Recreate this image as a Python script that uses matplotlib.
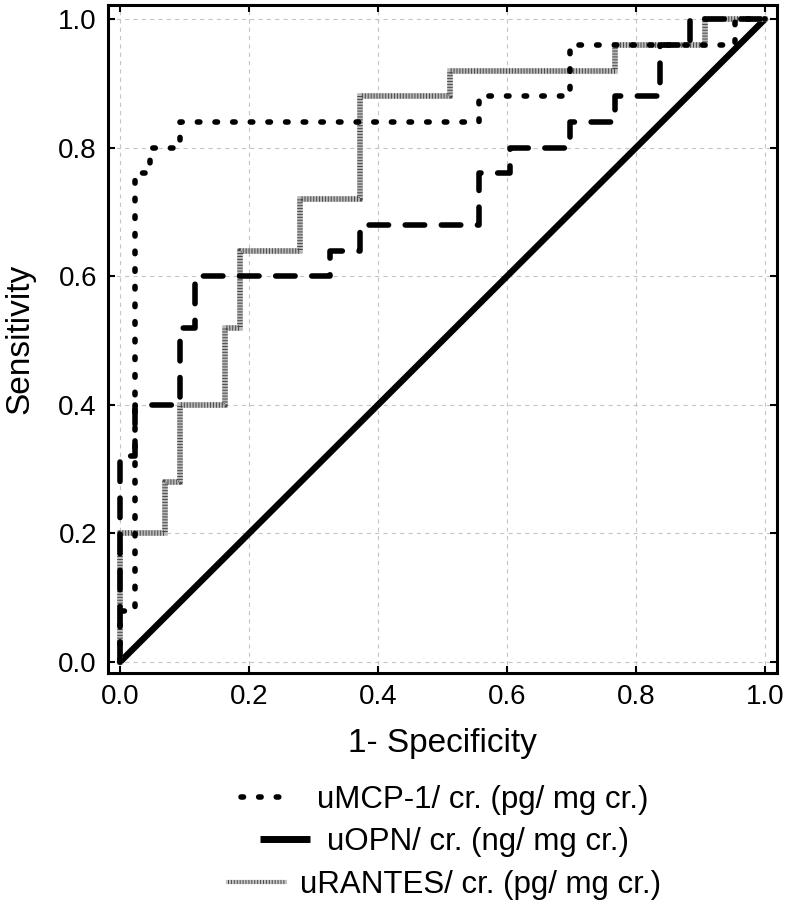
import matplotlib
matplotlib.use("Agg")
import matplotlib.pyplot as plt
from matplotlib.lines import Line2D
from matplotlib.legend_handler import HandlerTuple

plt.rcParams['font.family'] = ['Liberation Sans', 'DejaVu Sans']
plt.rcParams['lines.scale_dashes'] = False

# ROC step curves: (1 - specificity, sensitivity)
mcp_fpr = [0.0, 0.0, 0.023, 0.023, 0.047, 0.047, 0.093, 0.093, 0.556, 0.556, 0.698, 0.698, 0.953, 0.953, 1.0]
mcp_tpr = [0.0, 0.08, 0.08, 0.76, 0.76, 0.80, 0.80, 0.84, 0.84, 0.88, 0.88, 0.96, 0.96, 1.0, 1.0]

opn_fpr = [0.0, 0.0, 0.023, 0.023, 0.093, 0.093, 0.116, 0.116, 0.326, 0.326, 0.372, 0.372, 0.556, 0.556,
           0.605, 0.605, 0.698, 0.698, 0.767, 0.767, 0.837, 0.837, 0.884, 0.884, 1.0]
opn_tpr = [0.0, 0.32, 0.32, 0.40, 0.40, 0.52, 0.52, 0.60, 0.60, 0.64, 0.64, 0.68, 0.68, 0.76,
           0.76, 0.80, 0.80, 0.84, 0.84, 0.88, 0.88, 0.96, 0.96, 1.0, 1.0]

rantes_fpr = [0.0, 0.0, 0.07, 0.07, 0.093, 0.093, 0.163, 0.163, 0.186, 0.186, 0.279, 0.279, 0.372, 0.372,
              0.512, 0.512, 0.767, 0.767, 0.907, 0.907, 1.0]
rantes_tpr = [0.0, 0.20, 0.20, 0.28, 0.28, 0.40, 0.40, 0.52, 0.52, 0.64, 0.64, 0.72, 0.72, 0.88,
              0.88, 0.92, 0.92, 0.96, 0.96, 1.0, 1.0]

ref_x = [0.0, 1.0]
ref_y = [0.0, 1.0]

labels = ["uMCP-1/ cr. (pg/ mg cr.)", "uOPN/ cr. (ng/ mg cr.)", "uRANTES/ cr. (pg/ mg cr.)"]
ticks = [0.0, 0.2, 0.4, 0.6, 0.8, 1.0]
tick_labels = ["0.0", "0.2", "0.4", "0.6", "0.8", "1.0"]

fig = plt.figure(figsize=(7.86, 9.05), dpi=100)
ax = fig.add_axes([0.1374, 0.2564, 0.8511, 0.7381])

lw = 4.0
# diagonal reference
ax.plot(ref_x, ref_y, color='black', lw=4.6, solid_capstyle='round', zorder=3)
# RANTES: gray hatched line
ax.plot(rantes_fpr, rantes_tpr, color='#b8b8b8', lw=lw, solid_joinstyle='miter', zorder=4)
ax.plot(rantes_fpr, rantes_tpr, color='#4a4a4a', lw=lw, dashes=(0.7, 1.4), dash_capstyle='butt', zorder=4)
# OPN: dashed
ax.plot(opn_fpr, opn_tpr, color='black', lw=lw, dashes=(14, 12), dash_capstyle='round',
        dash_joinstyle='round', zorder=5)
# MCP-1: dotted
ax.plot(mcp_fpr, mcp_tpr, color='black', lw=lw, dashes=(1.8, 10.9), dash_capstyle='round', zorder=6)

ax.set_xlim(-0.0186, 1.0186)
ax.set_ylim(-0.017, 1.022)
ax.set_xticks(ticks)
ax.set_xticklabels(tick_labels)
ax.set_yticks(ticks)
ax.set_yticklabels(tick_labels)
ax.tick_params(direction='in', top=True, right=True, length=5, width=1.5, labelsize=20, pad=8)
ax.grid(True, color='#c4c4c4', lw=0.8, dashes=(3, 3))
ax.set_axisbelow(True)
for s in ax.spines.values():
    s.set_linewidth(2.2)

ax.set_xlabel("1- Specificity", fontsize=24)
ax.set_ylabel("Sensitivity", fontsize=24)
ax.xaxis.set_label_coords(0.5, -0.082)
ax.yaxis.set_label_coords(-0.108, 0.5)

# legend: three centered rows
h_mcp = Line2D([], [], color='black', lw=lw, dashes=(1.8, 10.9), dash_capstyle='round')
h_opn = Line2D([], [], color='black', lw=5.0, solid_capstyle='butt')
h_ran_base = Line2D([], [], color='#c4c4c4', lw=3.0)
h_ran_hatch = Line2D([], [], color='#4a4a4a', lw=3.0, dashes=(0.7, 1.4), dash_capstyle='butt')
h_ran = (h_ran_base, h_ran_hatch)
rows = [(h_mcp, labels[0], 0.116, 1.5, 0.95),
        (h_opn, labels[1], 0.0696, 1.6, 0.55),
        (h_ran, labels[2], 0.0221, 1.8, 0.5)]
for h, lab, yy, hl, pad in rows:
    fig.legend(handles=[h], labels=[lab], loc='center', bbox_to_anchor=(0.566, yy),
               frameon=False, fontsize=22.5, handlelength=hl, handletextpad=pad,
               borderpad=0, borderaxespad=0,
               handler_map={tuple: HandlerTuple(ndivide=1, pad=0)})

fig.savefig("out.png", dpi=100)
